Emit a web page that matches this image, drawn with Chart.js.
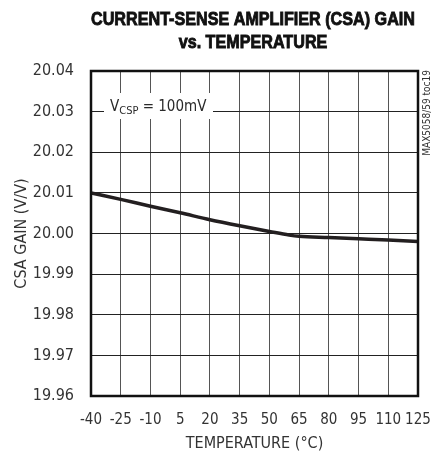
<!DOCTYPE html>
<html>
<head>
<meta charset="utf-8">
<script src="https://cdn.jsdelivr.net/npm/chart.js@4"></script>
<style>
  html, body { margin: 0; padding: 0; background: #fff; }
  #wrap { width: 431px; height: 457px; }
</style>
</head>
<body>
<div id="wrap"><canvas id="gainChart" width="431" height="457"></canvas></div>
<script>
// CSA gain vs temperature (VCSP = 100mV)
const tempC = [-40, -25, -10, 5, 20, 35, 50, 60, 65, 80, 95, 110, 125];
const gainVV = [20.0100, 20.0084, 20.0067, 20.0051, 20.0034, 20.0019, 20.0005, 19.9996, 19.9993, 19.9990, 19.9987, 19.9984, 19.9980];
const xTicks = [-40, -25, -10, 5, 20, 35, 50, 65, 80, 95, 110, 125];
const yTicks = [19.96, 19.97, 19.98, 19.99, 20.00, 20.01, 20.02, 20.03, 20.04];

const FONT = '"DejaVu Sans Condensed", "Liberation Sans", Arial, sans-serif';

// title, note box, side label and frame
const decorations = {
  id: 'decorations',
  afterDraw(chart) {
    const ctx = chart.ctx;
    const a = chart.chartArea;
    ctx.save();

    // note box
    ctx.fillStyle = '#fff';
    ctx.fillRect(104, 93, 109, 26);
    ctx.fillStyle = '#2a2a2a';
    ctx.textBaseline = 'alphabetic';
    ctx.textAlign = 'left';
    ctx.font = '15px ' + FONT;
    let x = 110;
    ctx.fillText('V', x, 111);
    x += ctx.measureText('V').width;
    ctx.font = '11px ' + FONT;
    ctx.fillText('CSP', x, 114);
    x += ctx.measureText('CSP').width;
    ctx.font = '15px ' + FONT;
    ctx.fillText(' = 100mV', x, 111);

    // frame
    ctx.strokeStyle = '#111';
    ctx.lineWidth = 2.5;
    ctx.strokeRect(a.left, a.top, a.right - a.left, a.bottom - a.top);

    // title (condensed by horizontal scaling)
    ctx.save();
    ctx.fillStyle = '#111';
    ctx.strokeStyle = '#111';
    ctx.lineWidth = 0.9;
    ctx.textAlign = 'center';
    ctx.font = 'bold 19px "Liberation Sans", Arial, sans-serif';
    ctx.translate(253, 0);
    ctx.scale(0.85, 1);
    ['CURRENT-SENSE AMPLIFIER (CSA) GAIN', 'vs. TEMPERATURE'].forEach((t, i) => {
      ctx.fillText(t, 0, 25 + i * 23);
      ctx.strokeText(t, 0, 25 + i * 23);
    });
    ctx.restore();

    // side label
    ctx.translate(430, 70);
    ctx.rotate(-Math.PI / 2);
    ctx.textAlign = 'right';
    ctx.font = '10px ' + FONT;
    ctx.fillStyle = '#333';
    ctx.fillText('MAX5058/59 toc19', 0, 0);
    ctx.restore();
  }
};

const noPad = s => { s.paddingLeft = 0; s.paddingRight = 0; s.paddingTop = 0; s.paddingBottom = 0; };

const ctx = document.getElementById('gainChart').getContext('2d');
new Chart(ctx, {
  type: 'line',
  data: {
    datasets: [{
      data: tempC.map((t, i) => ({ x: t, y: gainVV[i] })),
      borderColor: '#231f20',
      borderWidth: 3.5,
      pointRadius: 0,
      cubicInterpolationMode: 'monotone',
      fill: false
    }]
  },
  options: {
    responsive: false,
    animation: false,
    layout: { padding: { left: 8, right: 13, top: 71, bottom: 0 } },
    plugins: { legend: { display: false }, tooltip: { enabled: false } },
    scales: {
      x: {
        type: 'linear',
        min: -40,
        max: 125,
        afterBuildTicks: s => { s.ticks = xTicks.map(v => ({ value: v })); },
        afterFit: s => { s.height = 61; noPad(s); },
        grid: { color: '#555', lineWidth: 1, drawTicks: false },
        border: { display: false },
        ticks: { color: '#333', padding: 15, maxRotation: 0, autoSkip: false, font: { family: FONT, size: 15 } },
        title: { display: true, text: 'TEMPERATURE (°C)', color: '#333', padding: { top: 0 }, font: { family: FONT, size: 16 } }
      },
      y: {
        min: 19.96,
        max: 20.04,
        afterBuildTicks: s => { s.ticks = yTicks.map(v => ({ value: v })); },
        afterFit: s => { s.width = 83; noPad(s); },
        grid: { color: '#222', lineWidth: 1, drawTicks: false },
        border: { display: false },
        ticks: { color: '#333', padding: 17, autoSkip: false, font: { family: FONT, size: 16 }, callback: v => v.toFixed(2) },
        title: { display: true, text: 'CSA GAIN (V/V)', color: '#333', padding: { bottom: 0 }, font: { family: FONT, size: 16 } }
      }
    }
  },
  plugins: [decorations]
});
</script>
</body>
</html>
